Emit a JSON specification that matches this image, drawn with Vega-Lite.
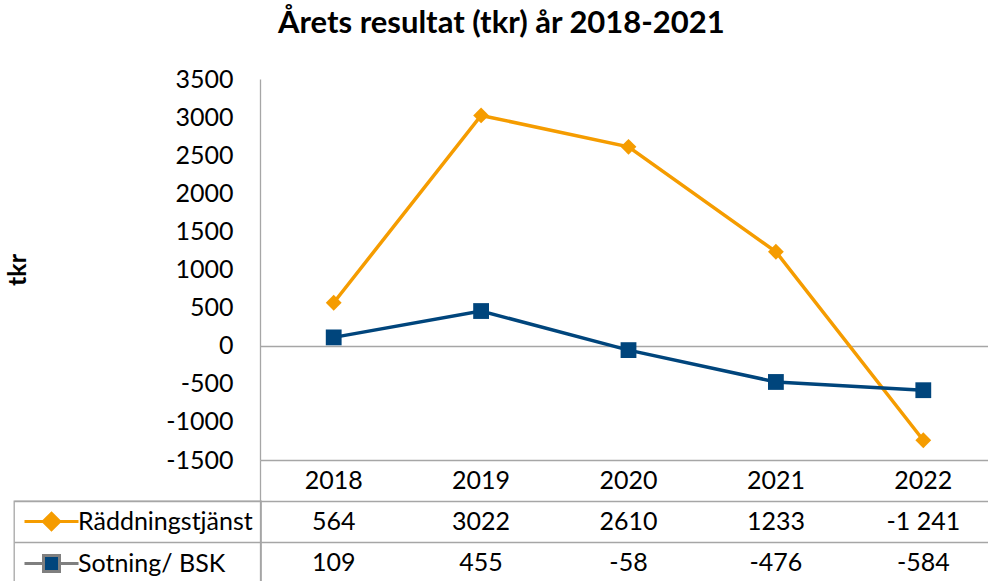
{
  "$schema": "https://vega.github.io/schema/vega-lite/v6.json",
  "padding": {"left": 5, "top": 8, "right": 0, "bottom": 0},
  "title": {"text": "Årets resultat (tkr) år 2018-2021", "fontSize": 31, "font": "Lato", "fontWeight": "bold", "color": "#000000", "anchor": "middle", "offset": 27},
  "datasets": {
    "results": [
      {"year": "2018", "series": "Räddningstjänst", "value": 564, "label": "564"},
      {"year": "2019", "series": "Räddningstjänst", "value": 3022, "label": "3022"},
      {"year": "2020", "series": "Räddningstjänst", "value": 2610, "label": "2610"},
      {"year": "2021", "series": "Räddningstjänst", "value": 1233, "label": "1233"},
      {"year": "2022", "series": "Räddningstjänst", "value": -1241, "label": "-1 241"},
      {"year": "2018", "series": "Sotning/ BSK", "value": 109, "label": "109"},
      {"year": "2019", "series": "Sotning/ BSK", "value": 455, "label": "455"},
      {"year": "2020", "series": "Sotning/ BSK", "value": -58, "label": "-58"},
      {"year": "2021", "series": "Sotning/ BSK", "value": -476, "label": "-476"},
      {"year": "2022", "series": "Sotning/ BSK", "value": -584, "label": "-584"}
    ]
  },
  "data": {"name": "results"},
  "spacing": 0,
  "bounds": "flush",
  "config": {
    "font": "Lato",
    "view": {"stroke": null},
    "axis": {"labelFont": "Lato", "titleFont": "Lato", "labelColor": "#000000", "titleColor": "#000000", "labelOverlap": false},
    "legend": {"strokeColor": "#a6a6a6", "strokeWidth": 1.3}
  },
  "vconcat": [
    {
      "width": 737,
      "height": 381,
      "encoding": {
        "x": {"field": "year", "type": "ordinal", "scale": {"type": "point", "padding": 0.5},
              "axis": {"labels": false, "ticks": false, "title": null, "domainColor": "#a6a6a6", "domainWidth": 1.3}},
        "y": {"field": "value", "type": "quantitative",
              "scale": {"domain": [-1500, 3500], "nice": false, "zero": false},
              "axis": {"values": [-1500, -1000, -500, 0, 500, 1000, 1500, 2000, 2500, 3000, 3500],
                       "labelExpr": "'' + datum.value", "labelOverlap": false, "labelBound": false,
                       "title": "tkr", "titleFontSize": 25, "titleFontWeight": "bold", "titlePadding": 135,
                       "labelFontSize": 25, "labelPadding": 27, "ticks": false, "tickSize": 0,
                       "domainColor": "#a6a6a6", "domainWidth": 1.3,
                       "grid": true, "gridWidth": 1.3,
                       "gridColor": {"condition": {"test": "datum.value === 0", "value": "#a6a6a6"}, "value": "transparent"}}},
        "color": {"field": "series", "type": "nominal",
                  "scale": {"domain": ["Räddningstjänst", "Sotning/ BSK"], "range": ["#F59C00", "#00457C"]},
                  "legend": null}
      },
      "layer": [
        {
          "mark": {"type": "line", "strokeWidth": 3.5},
          "encoding": {
            "opacity": {"field": "series", "type": "nominal",
                        "scale": {"range": [1, 1]},
                        "legend": {
                          "orient": "none", "legendX": -246, "legendY": 422, "title": null,
                          "direction": "vertical", "padding": 8,
                          "strokeColor": "#a6a6a6",
                          "labelFontSize": 25, "labelFont": "Lato", "labelColor": "#000000", "labelLimit": 400,
                          "symbolSize": 400, "labelOffset": 31, "rowPadding": 13,
                          "encoding": {
                            "symbols": {
                              "shape": {"value": {"expr": "datum.value === 'Räddningstjänst' ? 'M-1,0L4.4,0M1.7,-0.82L2.52,0L1.7,0.82L0.88,0Z' : 'M-1,0L0.9,0M2.5,0L4.4,0M0.9,-0.8L2.5,-0.8L2.5,0.8L0.9,0.8Z'"}},
                              "fill": {"value": {"expr": "datum.value === 'Räddningstjänst' ? '#F59C00' : '#00457C'"}},
                              "stroke": {"value": {"expr": "datum.value === 'Räddningstjänst' ? '#F59C00' : '#7F7F7F'"}},
                              "strokeWidth": {"value": 3}
                            }
                          }
                        }}
          }
        },
        {
          "mark": {"type": "point", "filled": true, "size": 250, "opacity": 1},
          "encoding": {
            "shape": {"field": "series", "type": "nominal",
                      "scale": {"domain": ["Räddningstjänst", "Sotning/ BSK"], "range": ["diamond", "square"]},
                      "legend": null}
          }
        }
      ]
    },
    {
      "width": 737,
      "height": 123,
      "encoding": {
        "x": {"field": "year", "type": "ordinal", "scale": {"type": "band", "paddingInner": 0, "paddingOuter": 0}, "axis": null}
      },
      "layer": [
        {
          "transform": [{"filter": "datum.series === 'Räddningstjänst'"}],
          "mark": {"type": "text", "fontSize": 25, "color": "#000000", "baseline": "middle", "align": "center"},
          "encoding": {
            "y": {"datum": "År", "type": "nominal"},
            "text": {"field": "year"}
          }
        },
        {
          "mark": {"type": "text", "fontSize": 25, "color": "#000000", "baseline": "middle", "align": "center"},
          "encoding": {
            "y": {"field": "series", "type": "nominal",
                  "scale": {"domain": ["År", "Räddningstjänst", "Sotning/ BSK"], "paddingInner": 0, "paddingOuter": 0},
                  "axis": {"values": ["Räddningstjänst", "Sotning/ BSK"], "labels": false, "title": null,
                           "tickBand": "extent", "ticks": true, "tickSize": 246, "tickColor": "#a6a6a6", "tickWidth": 1.3,
                           "grid": true, "gridColor": "#a6a6a6", "gridWidth": 1.3,
                           "domain": true, "domainColor": "#a6a6a6", "domainWidth": 1.3}},
            "text": {"field": "label"}
          }
        }
      ]
    }
  ]
}
